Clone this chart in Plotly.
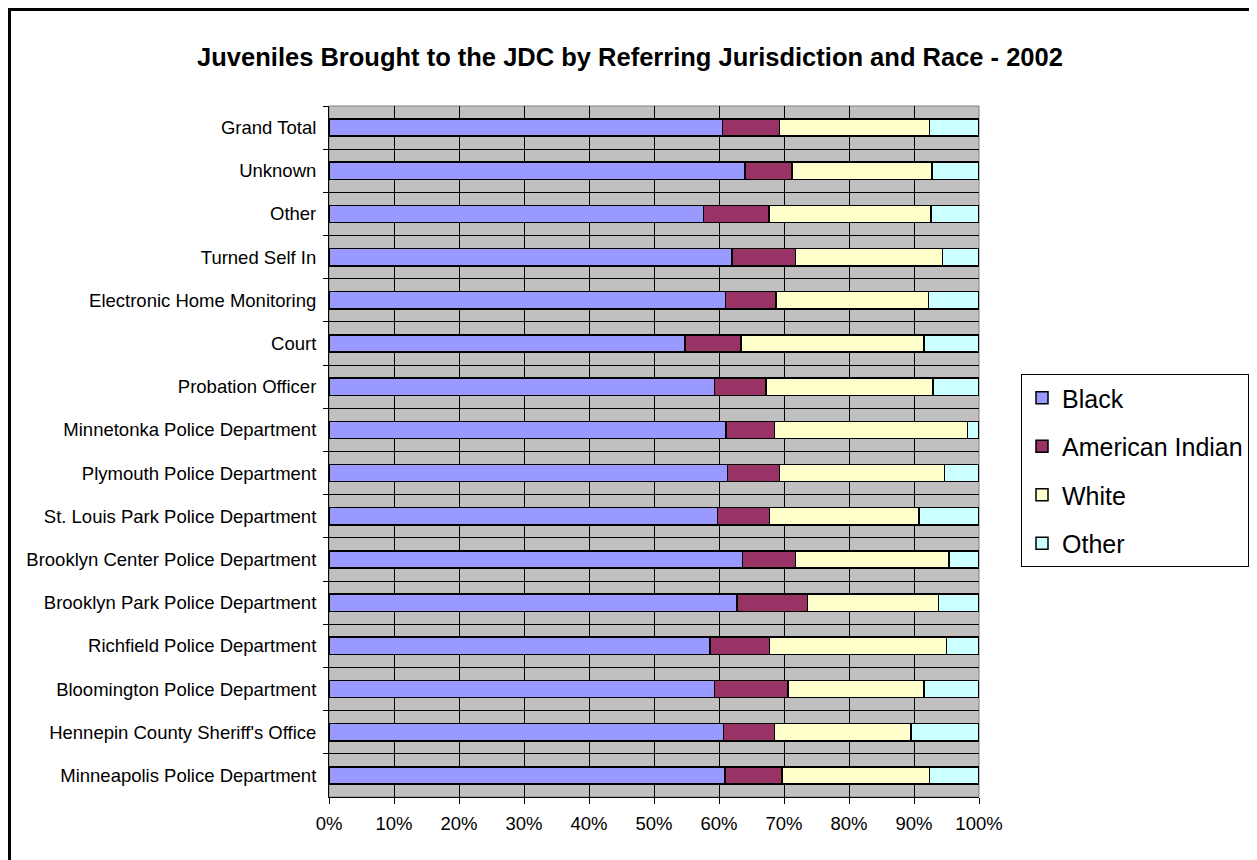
import plotly.graph_objects as go

categories = [
    "Grand Total", "Unknown", "Other", "Turned Self In", "Electronic Home Monitoring",
    "Court", "Probation Officer", "Minnetonka Police Department", "Plymouth Police Department",
    "St. Louis Park Police Department", "Brooklyn Center Police Department",
    "Brooklyn Park Police Department", "Richfield Police Department",
    "Bloomington Police Department", "Hennepin County Sheriff's Office",
    "Minneapolis Police Department",
]
black = [60.5, 64.0, 57.6, 62.0, 61.0, 54.8, 59.3, 61.1, 61.3, 59.8, 63.6, 62.8, 58.6, 59.3, 60.7, 60.9]
american_indian = [8.8, 7.2, 10.1, 9.8, 7.8, 8.6, 7.9, 7.4, 8.0, 8.0, 8.2, 10.8, 9.2, 11.3, 7.8, 8.8]
white = [23.1, 21.6, 24.9, 22.6, 23.4, 28.1, 25.7, 29.7, 25.4, 23.0, 23.6, 20.2, 27.2, 20.9, 21.0, 22.7]
other = [7.6, 7.2, 7.4, 5.6, 7.8, 8.5, 7.1, 1.8, 5.3, 9.2, 4.6, 6.2, 5.0, 8.5, 10.5, 7.6]

series = [
    ("Black", black, "#9999FF"),
    ("American Indian", american_indian, "#993366"),
    ("White", white, "#FFFFCC"),
    ("Other", other, "#CCFFFF"),
]
x_ticks = list(range(0, 101, 10))

fig = go.Figure()
for name, vals, color in series:
    fig.add_trace(go.Bar(
        y=categories, x=vals, name=name, orientation="h",
        marker=dict(color=color, line=dict(color="black", width=1.5)),
        legendgroup=name,
    ))

# page has an 8px body margin; figure coordinates below are relative to the figure
W, H = 1249, 852
L, T = 321, 98
pw, ph = 650, 691
R, B = W - L - pw, H - T - ph

fig.update_layout(
    width=W, height=H,
    barmode="stack", bargap=0.6,
    margin=dict(l=L, r=R, t=T, b=B, autoexpand=False),
    paper_bgcolor="white", plot_bgcolor="#C0C0C0",
    font=dict(family="Arial, Liberation Sans, sans-serif", size=18.5, color="black"),
    title=dict(text="<b>Juveniles Brought to the JDC by Referring Jurisdiction and Race - 2002</b>",
               x=622 / W, xref="container", xanchor="center",
               y=1 - 49 / H, yref="container", yanchor="middle",
               font=dict(size=25.5, color="black")),
    showlegend=True,
    legend=dict(x=(1013 - L) / pw, y=(T + ph - 462.5) / ph, xanchor="left", yanchor="middle",
                bordercolor="black", borderwidth=1, bgcolor="white",
                font=dict(size=25), traceorder="grouped", tracegroupgap=13,
                itemwidth=30),
    xaxis=dict(range=[0, 100], tickvals=x_ticks, ticktext=[f"{v}%" for v in x_ticks],
               showgrid=True, gridcolor="black", gridwidth=1,
               ticks="outside", ticklen=6, tickcolor="black",
               ticklabelstandoff=4,
               showline=True, linecolor="black", linewidth=1, zeroline=False,
               fixedrange=True),
    yaxis=dict(autorange="reversed", type="category", tickson="boundaries",
               showgrid=True, gridcolor="black", gridwidth=1,
               ticks="outside", ticklen=5, tickcolor="black",
               ticklabelstandoff=8,
               showline=True, linecolor="black", linewidth=1,
               fixedrange=True),
    shapes=[
        dict(type="rect", xref="paper", yref="paper", x0=0, x1=1, y0=0, y1=1,
             line=dict(color="#808080", width=1), layer="below"),
        dict(type="rect", xref="paper", yref="paper",
             x0=(1.5 - L) / pw, x1=(W - 1.5 - L) / pw,
             y0=(T + ph - (H + 10)) / ph, y1=(T + ph - 1.5) / ph,
             line=dict(color="black", width=3)),
    ],
)

fig.write_html("out.html")
